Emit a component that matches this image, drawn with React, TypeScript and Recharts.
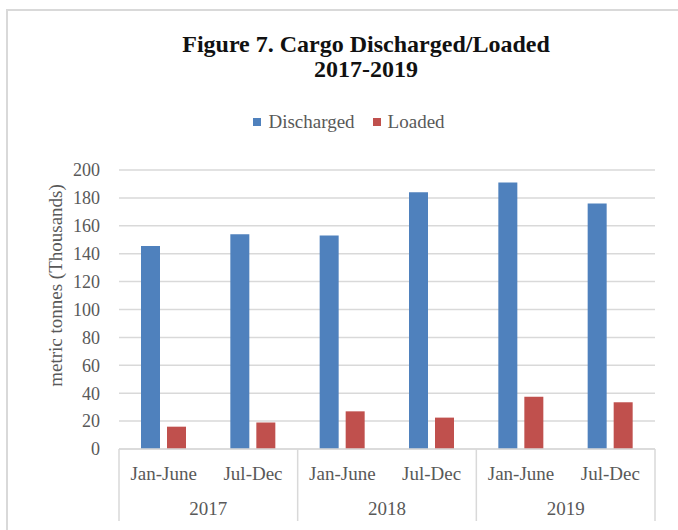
import { BarChart, Bar, XAxis, YAxis, CartesianGrid, Legend, Label } from 'recharts';

const PERIODS = ['Jan-June', 'Jul-Dec', 'Jan-June', 'Jul-Dec', 'Jan-June', 'Jul-Dec'];
const YEARS = ['2017', '2017', '2018', '2018', '2019', '2019'];
const DISCHARGED = [145.5, 154, 153, 184, 191, 176];
const LOADED = [16, 19, 27, 22.5, 37.5, 33.5];
const Y_TICKS = [0, 20, 40, 60, 80, 100, 120, 140, 160, 180, 200];

const data = PERIODS.map((period, i) => ({
  key: i,
  period,
  year: YEARS[i],
  discharged: DISCHARGED[i],
  loaded: LOADED[i],
}));

const W = 678;
const H = 530;
const MARGIN = { top: 170, right: 23, left: 0, bottom: 9 };
const Y_AXIS_W = 119;
const PLOT_W = W - MARGIN.left - MARGIN.right - Y_AXIS_W;
const YEAR_BAND = PLOT_W / 3;
const SERIF = '"Liberation Serif", "Times New Roman", serif';
const GRID = '#d9d9d9';
const TEXT = '#595959';

// eslint-disable-next-line @typescript-eslint/no-explicit-any
function PeriodTick(props: any) {
  const { x, y, payload } = props;
  return (
    <text
      x={x}
      y={y + 24}
      textAnchor="middle"
      dominantBaseline="central"
      fill={TEXT}
      fontSize={19}
      fontFamily={SERIF}
    >
      {PERIODS[payload.index] ?? payload.value}
    </text>
  );
}

// eslint-disable-next-line @typescript-eslint/no-explicit-any
function YearTick(props: any) {
  const { x, y, payload, index, visibleTicksCount } = props;
  const left = x - YEAR_BAND / 2;
  const right = x + YEAR_BAND / 2;
  const isLast = index === (visibleTicksCount ?? 3) - 1;
  return (
    <g>
      <line x1={left} x2={left} y1={y - 36} y2={y + 36} stroke={GRID} strokeWidth={1.5} />
      {isLast && (
        <line x1={right} x2={right} y1={y - 36} y2={y + 36} stroke={GRID} strokeWidth={1.5} />
      )}
      <text
        x={x}
        y={y + 23}
        textAnchor="middle"
        dominantBaseline="central"
        fill={TEXT}
        fontSize={19}
        fontFamily={SERIF}
      >
        {payload.value}
      </text>
    </g>
  );
}

// eslint-disable-next-line @typescript-eslint/no-explicit-any
function YLabel(props: any) {
  const { viewBox } = props;
  const cx = viewBox.x + 55;
  const cy = viewBox.y + viewBox.height / 2 - 24;
  return (
    <text
      x={cx}
      y={cy}
      transform={`rotate(-90, ${cx}, ${cy})`}
      textAnchor="middle"
      dominantBaseline="central"
      fill={TEXT}
      fontSize={19}
      fontFamily={SERIF}
    >
      metric tonnes (Thousands)
    </text>
  );
}

// eslint-disable-next-line @typescript-eslint/no-explicit-any
function LegendContent(props: any) {
  const { payload } = props;
  return (
    <div
      style={{
        display: 'flex',
        justifyContent: 'center',
        gap: 18,
        paddingLeft: 20,
        fontFamily: SERIF,
        fontSize: 19,
        color: TEXT,
        lineHeight: '24px',
      }}
    >
      {(payload ?? []).map((e: { value: string; color: string }) => (
        <span key={e.value} style={{ display: 'flex', alignItems: 'center' }}>
          <span style={{ width: 8, height: 8, background: e.color, marginRight: 7 }} />
          <span>{e.value}</span>
        </span>
      ))}
    </div>
  );
}

export default function App() {
  return (
    <div
      style={{
        position: 'absolute',
        left: 0,
        top: 0,
        width: W,
        height: H,
        overflow: 'hidden',
        background: '#fff',
      }}
    >
      <div
        style={{
          position: 'absolute',
          left: 6,
          top: 9,
          width: 800,
          height: 700,
          borderTop: `2px solid ${GRID}`,
          borderLeft: `2px solid ${GRID}`,
        }}
      />
      <div
        style={{
          position: 'absolute',
          left: 0,
          top: 32,
          width: 732,
          textAlign: 'center',
          fontFamily: SERIF,
          fontWeight: 700,
          fontSize: 24,
          lineHeight: '25px',
          color: '#111',
        }}
      >
        Figure 7. Cargo Discharged/Loaded
        <br />
        2017-2019
      </div>
      <BarChart
        width={W}
        height={H}
        data={data}
        margin={MARGIN}
        barSize={19}
        barGap={7}
        style={{ position: 'absolute', left: 0, top: 0 }}
      >
        <CartesianGrid vertical={false} stroke={GRID} strokeWidth={1.5} />
        <XAxis
          dataKey="period"
          height={36}
          axisLine={{ stroke: GRID, strokeWidth: 1.5 }}
          tickLine={false}
          tickSize={0}
          tickMargin={0}
          interval={0}
          tick={<PeriodTick />}
        />
        <XAxis
          xAxisId="year"
          dataKey="year"
          allowDuplicatedCategory={false}
          height={36}
          axisLine={false}
          tickLine={false}
          tickSize={0}
          tickMargin={0}
          interval={0}
          tick={<YearTick />}
        />
        <YAxis
          width={Y_AXIS_W}
          domain={[0, 200]}
          ticks={Y_TICKS}
          axisLine={false}
          tickLine={false}
          tickSize={0}
          tickMargin={19}
          tick={{ fontSize: 18, fill: TEXT, fontFamily: SERIF }}
        >
          <Label content={<YLabel />} />
        </YAxis>
        <Legend
          verticalAlign="middle"
          layout="horizontal"
          wrapperStyle={{ top: 110, left: 0, width: W }}
          content={<LegendContent />}
        />
        <Bar dataKey="discharged" name="Discharged" fill="#4F81BD" isAnimationActive={false} />
        <Bar dataKey="loaded" name="Loaded" fill="#C0504D" isAnimationActive={false} />
      </BarChart>
    </div>
  );
}
